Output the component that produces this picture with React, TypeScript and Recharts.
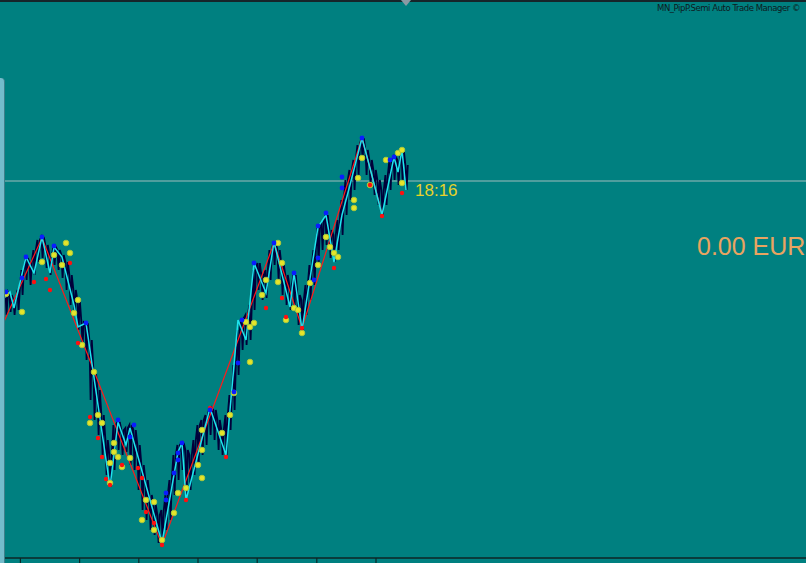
import React from "react";
import {
  ComposedChart,
  Line,
  Scatter,
  XAxis,
  YAxis,
  ReferenceLine,
} from "recharts";

// one bar every 4px, prices
const barHigh = [
  1.1, 1.1008, 1.1005, 1.1, 1.101, 1.103, 1.1042, 1.1038, 1.105, 1.106,
  1.1063, 1.1055, 1.1045, 1.1053, 1.105, 1.1045, 1.1038, 1.1025, 1.101, 1.1,
  1.0978, 1.0977, 1.096, 1.093, 1.091, 1.0885, 1.086, 1.0845, 1.0875, 1.0878,
  1.087, 1.0872, 1.0875, 1.087, 1.0855, 1.0835, 1.082, 1.0805, 1.0795, 1.0785,
  1.079, 1.0805, 1.082, 1.0845, 1.0855, 1.0857, 1.085, 1.0845, 1.086, 1.0875,
  1.088, 1.0885, 1.0892, 1.089, 1.088, 1.087, 1.0885, 1.0905, 1.0935, 1.097,
  1.0982, 1.0985, 1.0995, 1.103, 1.1037, 1.1025, 1.103, 1.105, 1.1058, 1.105,
  1.1035, 1.1025, 1.1015, 1.1025, 1.1005, 1.1, 1.1015, 1.1035, 1.105, 1.1072,
  1.1078, 1.1085, 1.107, 1.1065, 1.108, 1.11, 1.112, 1.113, 1.114, 1.1155,
  1.1162, 1.115, 1.114, 1.113, 1.112, 1.111, 1.1125, 1.114, 1.1143, 1.114,
  1.115, 1.1135,
];
const barLow = [
  1.0975, 1.0985, 1.0988, 1.0985, 1.099, 1.1005, 1.102, 1.1015, 1.1025, 1.1038,
  1.1042, 1.1032, 1.1025, 1.1035, 1.103, 1.1022, 1.101, 1.0995, 1.0985, 1.097,
  1.0955, 1.094, 1.09, 1.088, 1.0865, 1.0845, 1.0825, 1.0813, 1.083, 1.085,
  1.0845, 1.0848, 1.0835, 1.083, 1.081, 1.079, 1.078, 1.077, 1.0765, 1.0757,
  1.076, 1.077, 1.078, 1.0805, 1.082, 1.083, 1.0805, 1.081, 1.0825, 1.0835,
  1.0845, 1.0855, 1.0865, 1.086, 1.085, 1.0845, 1.0845, 1.087, 1.089, 1.0925,
  1.095, 1.0955, 1.096, 1.099, 1.101, 1.1, 1.1002, 1.102, 1.1035, 1.102,
  1.1005, 1.0995, 1.099, 1.0995, 1.0975, 1.097, 1.0985, 1.1, 1.1015, 1.1035,
  1.105, 1.1055, 1.1042, 1.1038, 1.105, 1.1065, 1.1085, 1.11, 1.111, 1.1125,
  1.114, 1.1125, 1.1115, 1.1105, 1.1095, 1.1085, 1.1095, 1.111, 1.112, 1.1115,
  1.112, 1.111,
];

// fast zigzag (cyan)
const fastBars = [
  0, 2, 3, 6, 8, 10, 12, 13, 15, 18, 19, 21, 27, 29, 31, 32, 40, 44, 45, 46, 52,
  56, 59, 61, 63, 66, 68, 72, 73, 75, 79, 81, 83, 85, 87, 90, 92, 95, 98, 99,
  100, 101,
];
const fastPrices = [
  1.1, 1.1008, 1.0992, 1.1043, 1.1027, 1.1063, 1.1027, 1.1053, 1.1043, 1.0995,
  1.0973, 1.0977, 1.0813, 1.0878, 1.0855, 1.0872, 1.0757, 1.0848, 1.0857, 1.08,
  1.0892, 1.0845, 1.098, 1.096, 1.1037, 1.1007, 1.1058, 1.0993, 1.1027, 1.097,
  1.1073, 1.1085, 1.1038, 1.1085, 1.1115, 1.1162, 1.1132, 1.1085, 1.1143,
  1.1128, 1.115, 1.111,
];

// slow zigzag (red)
const slowBars = [0, 10, 40, 68, 75, 90, 95];
const slowPrices = [1.0974, 1.1062, 1.0755, 1.1057, 1.0972, 1.1162, 1.1086];

const blueDots = [
  [1, 1.1008], [5, 1.1022], [6, 1.1043], [10, 1.1063], [13, 1.1054],
  [21, 1.0977], [29, 1.088], [32, 1.0863], [33, 1.0875], [41, 1.08],
  [41, 1.0807], [43, 1.0827], [44, 1.084], [44, 1.0847], [45, 1.0857],
  [52, 1.089], [58, 1.0908], [59, 1.0937], [60, 1.098], [63, 1.1037],
  [68, 1.1057], [73, 1.1027], [78, 1.102], [79, 1.1042], [79, 1.1074],
  [81, 1.1087], [85, 1.1112], [85, 1.1123], [90, 1.1162], [97, 1.114],
  [98, 1.1143],
];
const redDots = [
  [8, 1.1018], [11, 1.1021], [12, 1.101], [17, 1.1037], [19, 1.0957],
  [22, 1.0883], [24, 1.0862], [25, 1.0843], [26, 1.0821], [27, 1.0815],
  [30, 1.0835], [34, 1.0832], [35, 1.0822], [36, 1.0788], [38, 1.0777],
  [40, 1.0755], [46, 1.08], [52, 1.0892], [56, 1.0843], [66, 1.0992],
  [70, 1.1002], [71, 1.0983], [75, 1.0972], [83, 1.1032], [92, 1.1115],
  [95, 1.1084], [100, 1.1107],
];
const yellowDots = [
  [1, 1.1006], [5, 1.0988], [10, 1.1038], [13, 1.1045], [16, 1.1057],
  [17, 1.1047], [15, 1.1035], [19, 1.1], [18, 1.0987], [20, 1.0955],
  [23, 1.0928], [24, 1.0885], [22, 1.0877], [25, 1.0877], [28, 1.0857],
  [28, 1.0848], [29, 1.0843], [27, 1.0837], [27, 1.0817], [30, 1.0833],
  [32, 1.0842], [36, 1.08], [38, 1.0798], [35, 1.078], [38, 1.077],
  [40, 1.076], [43, 1.0787], [44, 1.0807], [46, 1.0812], [49, 1.0835],
  [50, 1.0822], [50, 1.087], [50, 1.085], [55, 1.0867], [57, 1.0885],
  [58, 1.0907], [61, 1.0978], [62, 1.0938], [63, 1.0977], [62, 1.0973],
  [65, 1.1005], [66, 1.102], [69, 1.1057], [70, 1.1037], [69, 1.1018],
  [73, 1.0992], [74, 1.099], [71, 1.098], [75, 1.0967], [77, 1.1017],
  [79, 1.1035], [81, 1.1063], [82, 1.1053], [83, 1.1047], [84, 1.1043],
  [88, 1.11], [88, 1.1092], [89, 1.1122], [90, 1.1142], [92, 1.1115],
  [96, 1.114], [99, 1.1147], [100, 1.115], [100, 1.1117],
];

// period separators on the time scale
const separatorBars = [4.6, 19.4, 34.2, 49, 63.8, 78.7, 93.5];
const bidPrice = 1.1119;

const barTrace = barHigh.flatMap((h, i) => [
  { x: i - 0.15, y: h },
  { x: i + 0.15, y: barLow[i] },
  { x: i + 0.45, y: h },
]);
const fastData = fastBars.map((x, i) => ({ x, y: fastPrices[i] }));
const slowData = slowBars.map((x, i) => ({ x, y: slowPrices[i] }));
const toPoints = (d: number[][]) => d.map(([x, y]) => ({ x, y }));

const dot = (r: number, fill: string, stroke?: string) => (p: any) =>
  p.cx == null ? <g /> : (
    <circle
      cx={p.cx}
      cy={p.cy}
      r={r}
      fill={fill}
      stroke={stroke || "none"}
      strokeWidth={1}
    />
  );

export default function App() {
  return (
    <div
      style={{
        position: "fixed",
        left: 0,
        top: 0,
        width: 806,
        height: 563,
        background: "#008080",
        overflow: "hidden",
        fontFamily: "'Liberation Sans', Arial, sans-serif",
      }}
    >
      <ComposedChart
        width={806}
        height={563}
        margin={{ top: 0, right: 0, bottom: 0, left: 0 }}
      >
        <XAxis
          type="number"
          dataKey="x"
          domain={[-0.5, 201]}
          ticks={separatorBars}
          tickFormatter={() => ""}
          tickSize={5}
          height={5}
          allowDataOverflow
          axisLine={{ stroke: "#0c2626", strokeWidth: 1.5 }}
          tickLine={{ stroke: "#0c2626", strokeWidth: 1.2 }}
        />
        <YAxis
          type="number"
          hide
          domain={[1.0742, 1.13]}
          allowDataOverflow
        />
        <ReferenceLine y={bidPrice} stroke="#9fbcbc" strokeWidth={1} />
        <Line
          data={barTrace}
          dataKey="y"
          type="linear"
          stroke="#00003a"
          strokeWidth={1.8}
          dot={false}
          isAnimationActive={false}
        />
        <Line
          data={slowData}
          dataKey="y"
          type="linear"
          stroke="#ff1a1a"
          strokeWidth={1.2}
          dot={false}
          isAnimationActive={false}
        />
        <Scatter
          data={toPoints(yellowDots)}
          dataKey="y"
          shape={dot(2.8, "#e4e42a", "#a8c83c")}
          isAnimationActive={false}
        />
        <Scatter
          data={toPoints(redDots)}
          dataKey="y"
          shape={dot(2.2, "#ff1010")}
          isAnimationActive={false}
        />
        <Line
          data={fastData}
          dataKey="y"
          type="linear"
          stroke="#1ee4ee"
          strokeWidth={1.5}
          dot={false}
          isAnimationActive={false}
        />
        <Scatter
          data={toPoints(blueDots)}
          dataKey="y"
          shape={dot(2.4, "#0a1cff")}
          isAnimationActive={false}
        />
      </ComposedChart>

      {/* chrome around the chart */}
      <div
        style={{
          position: "absolute",
          left: 0,
          top: 0,
          width: 806,
          height: 2,
          background: "#16252a",
        }}
      />
      <div
        style={{
          position: "absolute",
          left: 401,
          top: 0,
          width: 0,
          height: 0,
          borderLeft: "5px solid transparent",
          borderRight: "5px solid transparent",
          borderTop: "6px solid #8a9aa4",
        }}
      />
      <div
        style={{
          position: "absolute",
          left: 0,
          top: 78,
          width: 4,
          height: 490,
          background: "#74bccb",
          borderRight: "1px solid #3d7f8a",
          borderTopRightRadius: 4,
        }}
      />
      <div
        style={{
          position: "absolute",
          left: 657,
          top: 3,
          fontSize: 8.5,
          color: "#0e1a1e",
          whiteSpace: "nowrap",
          fontFamily: "'DejaVu Sans', sans-serif",
          letterSpacing: -0.45,
        }}
      >
        MN_PipP.Semi Auto Trade Manager ©
      </div>
      <div
        style={{
          position: "absolute",
          left: 415,
          top: 181,
          fontSize: 17,
          color: "#e8d22a",
          whiteSpace: "nowrap",
        }}
      >
        18:16
      </div>
      <div
        style={{
          position: "absolute",
          left: 697,
          top: 232,
          fontSize: 25,
          color: "#e9a460",
          whiteSpace: "nowrap",
        }}
      >
        0.00 EUR
      </div>
    </div>
  );
}
